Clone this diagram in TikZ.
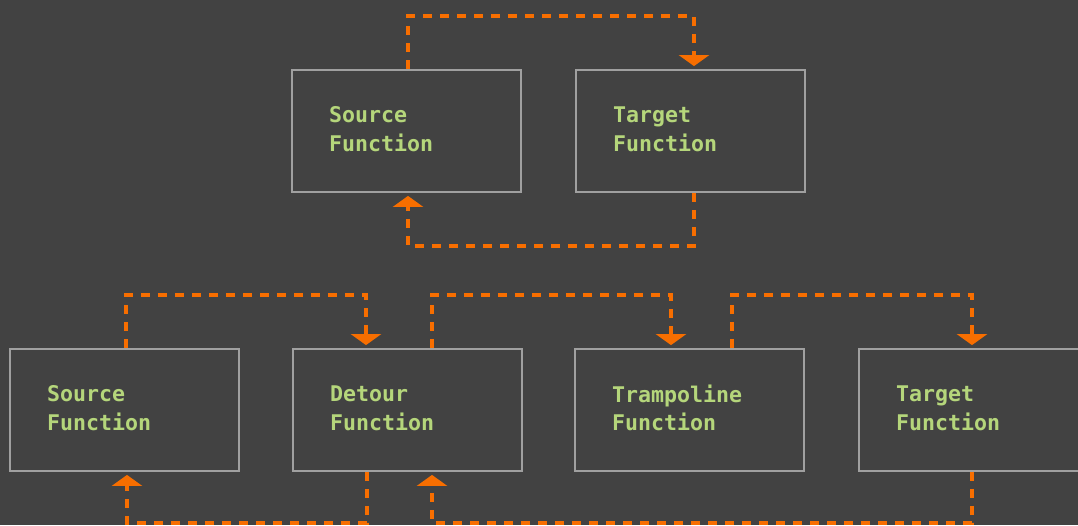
\documentclass[tikz,border=0pt]{standalone}
\usepackage{fontspec}
\newfontfamily\boxmono{DejaVu Sans Mono}
\usetikzlibrary{arrows.meta}
\definecolor{bgc}{HTML}{424242}
\definecolor{edgec}{HTML}{A0A0A0}
\definecolor{linkc}{HTML}{F76E00}
\definecolor{txtc}{HTML}{B5D67B}
\tikzset{
  fnbox/.style={draw=edgec, line width=1.8pt, minimum width=229pt, minimum height=122pt,
    inner sep=0pt, text width=155pt, align=left, text=txtc,
    font=\boxmono\bfseries\fontsize{21.6}{28.3}\selectfont,
    execute at end node={\rule[-4pt]{0pt}{4pt}}},
  link/.style={draw=linkc, line width=3.9pt, dash pattern=on 9pt off 8pt},
  tolink/.style={link, -{Triangle[width=30pt,length=11pt]}, shorten >=3pt}
}
\begin{document}
\begin{tikzpicture}[x=1pt,y=-1pt]
\fill[bgc] (0,0) rectangle (1078,525);
\useasboundingbox (0,0) rectangle (1078,525);
% top row
\node[fnbox] (S1) at (406.5,131) {Source\\Function};
\node[fnbox] (T1) at (690.5,131) {Target\\Function};
% bottom row
\node[fnbox] (S2) at (124.5,410) {Source\\Function};
\node[fnbox] (D2) at (407.5,410) {Detour\\Function};
\node[fnbox] (P2) at (689.5,410) {Trampoline\\Function};
\node[fnbox] (T2) at (973.5,410) {Target\\Function};
% top connectors
\draw[tolink] ([xshift=1.5pt]S1.north) -- ++(0,-53) -| ([xshift=3.5pt]T1.north);
\draw[tolink] ([xshift=3.5pt]T1.south) -- ++(0,53) -| ([xshift=1.5pt]S1.south);
% bottom connectors
\draw[tolink] ([xshift=1.5pt]S2.north) -- ++(0,-53) -| ([xshift=-41.5pt]D2.north);
\draw[tolink] ([xshift=24.5pt]D2.north) -- ++(0,-53) -| ([xshift=-18.5pt]P2.north);
\draw[tolink] ([xshift=42.5pt]P2.north) -- ++(0,-53) -| ([xshift=-1.5pt]T2.north);
\draw[tolink] ([xshift=-40.5pt]D2.south) -- ++(0,51) -| ([xshift=2.5pt]S2.south);
\draw[tolink] ([xshift=-1.5pt]T2.south) -- ++(0,51) -| ([xshift=24.5pt]D2.south);
\end{tikzpicture}
\end{document}
